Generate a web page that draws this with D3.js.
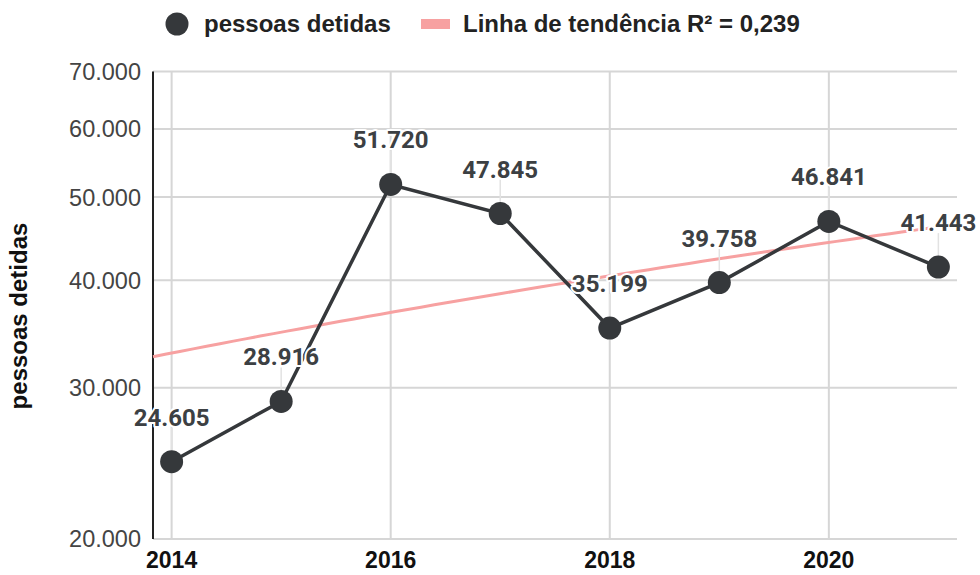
<!DOCTYPE html>
<html>
<head>
<meta charset="utf-8">
<script src="https://cdn.jsdelivr.net/npm/d3@7"></script>
<style>
  body { margin: 0; background: #fff; }
  svg { display: block; }
</style>
</head>
<body>
<svg id="chart" width="980" height="575"></svg>
<script>

// data
const years = [2014, 2015, 2016, 2017, 2018, 2019, 2020, 2021];
const detidas = [24605, 28916, 51720, 47845, 35199, 39758, 46841, 41443];
const yTicks = [20000, 30000, 40000, 50000, 60000, 70000];
const xTicks = [2014, 2016, 2018, 2020];
const seriesName = 'pessoas detidas';
const trendName = 'Linha de tendência R² = 0,239';

const svg = d3.select('#chart');
const plotL = 153, plotR = 957, plotT = 71.5, plotB = 539;

const ptBR = d3.formatLocale({ decimal: ',', thousands: '.', grouping: [3], currency: ['R$', ''] });
const fmt = ptBR.format(',d');

const pad = 0.17;
const x = d3.scaleLinear()
	.domain([d3.min(years) - pad, d3.max(years) + pad])
	.range([plotL, plotR]);

const y = d3.scaleLog()
	.domain([20000, 70000])
	.range([plotB, plotT]);

const data = years.map((yr, i) => ({ year: yr, value: detidas[i] }));

// grid
const grid = svg.append('g');
grid.selectAll('line.h').data(yTicks).join('line')
	.attr('x1', plotL).attr('x2', plotR)
	.attr('y1', d => y(d)).attr('y2', d => y(d))
	.attr('stroke', '#d6d6d6').attr('stroke-width', 2);
grid.selectAll('line.v').data(xTicks).join('line')
	.attr('x1', d => x(d)).attr('x2', d => x(d))
	.attr('y1', plotT).attr('y2', plotB)
	.attr('stroke', '#d6d6d6').attr('stroke-width', 2);

// left axis line
svg.append('line')
	.attr('x1', plotL).attr('x2', plotL)
	.attr('y1', plotT).attr('y2', plotB)
	.attr('stroke', '#222').attr('stroke-width', 2);

// y tick labels
svg.append('g').selectAll('text').data(yTicks).join('text')
	.attr('x', plotL - 12)
	.attr('y', d => y(d))
	.attr('dy', '0.36em')
	.attr('text-anchor', 'end')
	.attr('font-family', 'Liberation Sans, Arial, sans-serif')
	.attr('font-size', 23.5)
	.attr('fill', '#444')
	.text(d => fmt(d));

// x tick labels
svg.append('g').selectAll('text').data(xTicks).join('text')
	.attr('x', d => x(d))
	.attr('y', 568)
	.attr('text-anchor', 'middle')
	.attr('font-family', 'Liberation Sans, Arial, sans-serif')
	.attr('font-weight', 'bold')
	.attr('font-size', 23)
	.attr('fill', '#111')
	.text(d => d);

// y axis title
svg.append('text')
	.attr('transform', `translate(27,316) rotate(-90)`)
	.attr('text-anchor', 'middle')
	.attr('font-family', 'Liberation Sans, Arial, sans-serif')
	.attr('font-weight', 'bold')
	.attr('font-size', 24)
	.attr('fill', '#111')
	.text(seriesName);

// linear trendline (least squares, as the spreadsheet computes it)
const mx = d3.mean(years), my = d3.mean(detidas);
const sxy = d3.sum(years, (v, i) => (v - mx) * (detidas[i] - my));
const sxx = d3.sum(years, v => (v - mx) * (v - mx));
const slope = sxy / sxx, icpt = my - slope * mx;
const trendPts = d3.range(x.domain()[0], x.domain()[1] + 1e-9, (x.domain()[1] - x.domain()[0]) / 60)
	.map(t => [t, icpt + slope * t]);

svg.append('path')
	.datum(trendPts)
	.attr('fill', 'none')
	.attr('stroke', '#f7a1a1')
	.attr('stroke-width', 3)
	.attr('d', d3.line().x(d => x(d[0])).y(d => y(d[1])));

// leader lines from point to label
svg.append('g').selectAll('line').data(data).join('line')
	.attr('x1', d => x(d.year)).attr('x2', d => x(d.year))
	.attr('y1', d => y(d.value) - 34).attr('y2', d => y(d.value) - 10)
	.attr('stroke', '#e2e2e2').attr('stroke-width', 1.5);

// series line
svg.append('path')
	.datum(data)
	.attr('fill', 'none')
	.attr('stroke', '#35383b')
	.attr('stroke-width', 3.5)
	.attr('d', d3.line().x(d => x(d.year)).y(d => y(d.value)));

svg.append('g').selectAll('circle').data(data).join('circle')
	.attr('cx', d => x(d.year))
	.attr('cy', d => y(d.value))
	.attr('r', 11.5)
	.attr('fill', '#35383b');

// data labels with white halo
svg.append('g').selectAll('text').data(data).join('text')
	.attr('x', d => x(d.year))
	.attr('y', d => y(d.value) - 36)
	.attr('text-anchor', 'middle')
	.attr('font-family', 'Roboto, sans-serif')
	.attr('font-weight', 'bold')
	.attr('font-size', 24)
	.attr('fill', '#3c4043')
	.attr('stroke', '#fff')
	.attr('stroke-width', 4)
	.attr('stroke-linejoin', 'round')
	.attr('paint-order', 'stroke')
	.text(d => fmt(d.value));

// legend
const lg = svg.append('g');
lg.append('circle').attr('cx', 177).attr('cy', 24).attr('r', 11.5).attr('fill', '#35383b');
lg.append('text').attr('x', 204).attr('y', 32)
	.attr('font-family', 'Liberation Sans, Arial, sans-serif')
	.attr('font-weight', 'bold').attr('font-size', 24).attr('fill', '#222')
	.text(seriesName);
lg.append('rect').attr('x', 421).attr('y', 19).attr('width', 29).attr('height', 10).attr('fill', '#f7a1a1');
lg.append('text').attr('x', 463).attr('y', 32)
	.attr('font-family', 'Liberation Sans, Arial, sans-serif')
	.attr('font-weight', 'bold').attr('font-size', 24).attr('fill', '#222')
	.text(trendName);

</script>
</body>
</html>
